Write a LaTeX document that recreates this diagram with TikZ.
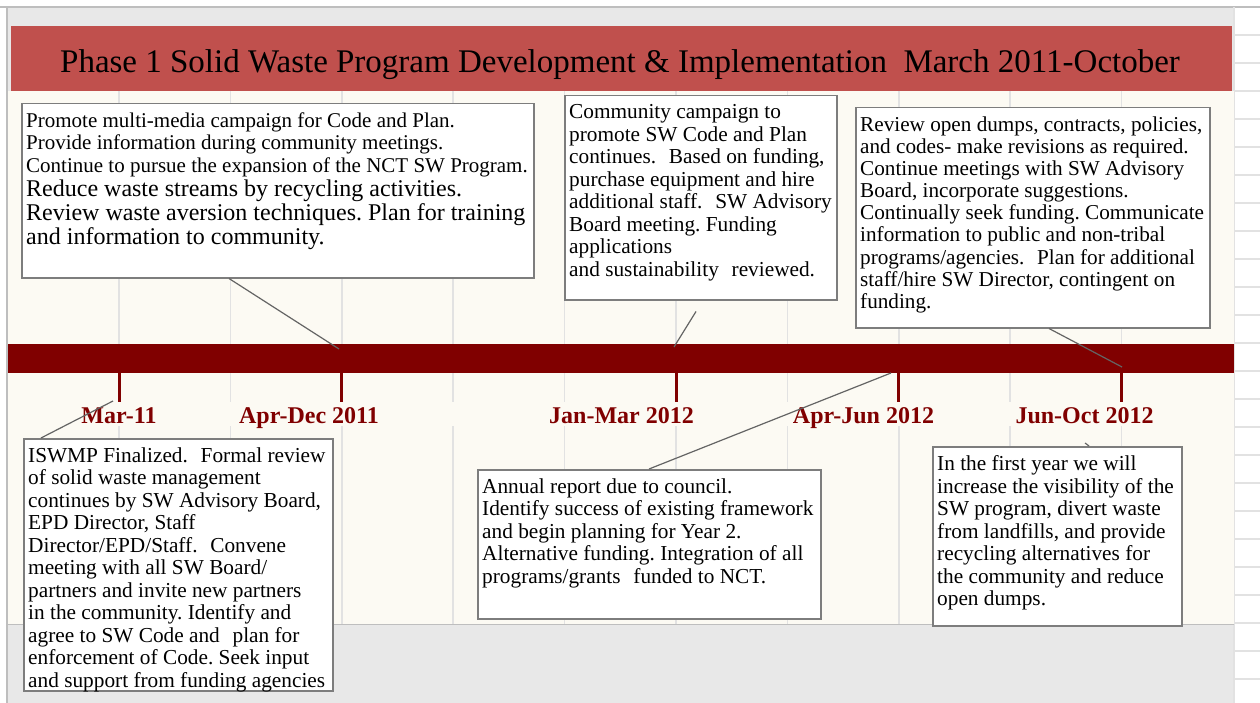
\documentclass[tikz,border=0pt]{standalone}
\usepackage{fontspec}
\setmainfont{Liberation Serif}
\usepackage{tikz}
\usetikzlibrary{positioning,calc}
\frenchspacing

\definecolor{titlered}{RGB}{192,80,77}
\definecolor{barred}{RGB}{128,0,0}
\definecolor{plotcream}{RGB}{252,250,243}
\definecolor{chartgray}{RGB}{232,232,232}
\definecolor{gridgray}{RGB}{226,226,226}
\definecolor{framegray}{RGB}{190,190,190}
\definecolor{boxgray}{RGB}{125,125,125}
\definecolor{linkgray}{RGB}{100,100,100}

\newcommand{\gap}{\hspace{0.35em} }

\tikzset{
  notebox/.style={draw=boxgray, line width=1.5pt, fill=white, anchor=north west, inner sep=0pt},
  notetext/.style={anchor=north west, align=left, inner xsep=5pt, inner ysep=9.5pt, font=\fontsize{21.3}{22.5}\selectfont},
  datelabel/.style={anchor=base, text=barred, font=\fontsize{24}{24}\selectfont\bfseries},
  tickmark/.style={barred, line width=3pt},
  gridline/.style={gridgray, line width=1.5pt},
  sheetline/.style={gridgray, line width=1.5pt},
  link/.style={linkgray, line width=1.2pt}
}

\begin{document}
\begin{tikzpicture}[x=1pt, y=-1pt]
    \useasboundingbox (0,0) rectangle (1260,703);
    \fill[white] (0,0) rectangle (1260,703);

    % sheet and chart area
    \foreach \r in {1,...,24}
        \draw[sheetline] (1234,{7+28*\r}) -- (1260,{7+28*\r});
    \fill[chartgray] (8,8) rectangle (1234,703);
    \draw[framegray, line width=1.5pt] (0,7) -- (1260,7);
    \draw[framegray, line width=1.5pt] (7,7) -- (7,703);
    \draw[gridgray, line width=1.5pt] (1234,7) -- (1234,703);

    % title band
    \fill[titlered] (11,26) rectangle (1232,91);
    \node[anchor=base, font=\fontsize{33}{33}\selectfont] (title) at (620,73)
        {Phase 1 Solid Waste Program Development \& Implementation\ \ March 2011-October};

    % plot area
    \fill[plotcream] (8,91) rectangle (1234,624);
    \draw[framegray, line width=1pt] (8,624) -- (1234,624);
    \foreach \k in {1,...,10} {
        \draw[gridline] ({7.6+111.4*\k},91) -- ({7.6+111.4*\k},402);
        \draw[gridline] ({7.6+111.4*\k},426) -- ({7.6+111.4*\k},624);
    }

    % timeline
    \fill[barred] (8,344) rectangle (1234,373);
    \foreach \k in {1,3,6,8,10}
        \draw[tickmark] ({7.6+111.4*\k},373) -- ({7.6+111.4*\k},402);

    \node[datelabel] (mar11) at (119,423) {Mar-11};
    \node[datelabel] (aprdec) at (309,423) {Apr-Dec 2011};
    \node[datelabel] (janmar) at (621.5,423) {Jan-Mar 2012};
    \node[datelabel] (aprjun) at (863.5,423) {Apr-Jun 2012};
    \node[datelabel] (junoct) at (1084.5,423) {Jun-Oct 2012};

    % boxes
    \node[notebox, minimum width=512, minimum height=174] (boxA) at (21,103) {};
    \node[notetext, font=\fontsize{21}{22.5}\selectfont] (txtA) at (boxA.north west)
        {Promote multi-media campaign for Code and Plan.\\
         Provide information during community meetings.\\
         Continue to pursue the expansion of the NCT SW Program.};
    \node[notetext, font=\fontsize{24}{24.3}\selectfont] (txtAb) at ([yshift=-67pt]boxA.north west)
        {Reduce waste streams by recycling activities.\\
         Review waste aversion techniques. Plan for training\\
         and information to community.};

    \node[notebox, minimum width=272, minimum height=204] (boxB) at (564,95) {};
    \node[notetext] (txtB) at (boxB.north west)
        {Community campaign to\\
         promote SW Code and Plan\\
         continues.\gap Based on funding,\\
         purchase equipment and hire\\
         additional staff.\gap SW Advisory\\
         Board meeting. Funding\\
         applications\\
         and sustainability\gap reviewed.};

    \node[notebox, minimum width=354, minimum height=220] (boxC) at (855,107) {};
    \node[notetext, font=\fontsize{21.2}{22.1}\selectfont] (txtC) at (boxC.north west)
        {Review open dumps, contracts, policies,\\
         and codes- make revisions as required.\\
         Continue meetings with SW Advisory\\
         Board, incorporate suggestions.\\
         Continually seek funding. Communicate\\
         information to public and non-tribal\\
         programs/agencies.\gap Plan for additional\\
         staff/hire SW Director, contingent on\\
         funding.};

    \node[notebox, minimum width=309, minimum height=252] (boxD) at (23,438) {};
    \node[notetext] (txtD) at (boxD.north west)
        {ISWMP Finalized.\gap Formal review\\
         of solid waste management\\
         continues by SW Advisory Board,\\
         EPD Director, Staff\\
         Director/EPD/Staff.\gap Convene\\
         meeting with all SW Board/\\
         partners and invite new partners\\
         in the community. Identify and\\
         agree to SW Code and\gap plan for\\
         enforcement of Code. Seek input\\
         and support from funding agencies};

    \node[notebox, minimum width=343, minimum height=149] (boxE) at (477,469) {};
    \node[notetext] (txtE) at (boxE.north west)
        {Annual report due to council.\\
         Identify success of existing framework\\
         and begin planning for Year 2.\\
         Alternative funding. Integration of all\\
         programs/grants\gap funded to NCT.};

    \node[notebox, minimum width=249, minimum height=179] (boxF) at (932,446) {};
    \node[notetext] (txtF) at (boxF.north west)
        {In the first year we will\\
         increase the visibility of the\\
         SW program, divert waste\\
         from landfills, and provide\\
         recycling alternatives for\\
         the community and reduce\\
         open dumps.};

    % Leader lines
    \coordinate (pinA) at (339,349);
    \coordinate (pinB) at (674,347);
    \coordinate (pinC) at (1122,367);
    \coordinate (pinD) at (113,401);
    \coordinate (pinE) at (891,373);
    \coordinate (pinF) at (1085,443);
    \draw[link] ([xshift=208pt]boxA.south west) -- (pinA);
    \draw[link] ([xshift=132pt,yshift=-11pt]boxB.south west) -- (pinB);
    \draw[link] ([xshift=194pt]boxC.south west) -- (pinC);
    \draw[link] ([xshift=18pt]boxD.north west) -- (pinD);
    \draw[link] ([xshift=172pt]boxE.north west) -- (pinE);
    \draw[link] ([xshift=157pt]boxF.north west) -- (pinF);
\end{tikzpicture}
\end{document}
